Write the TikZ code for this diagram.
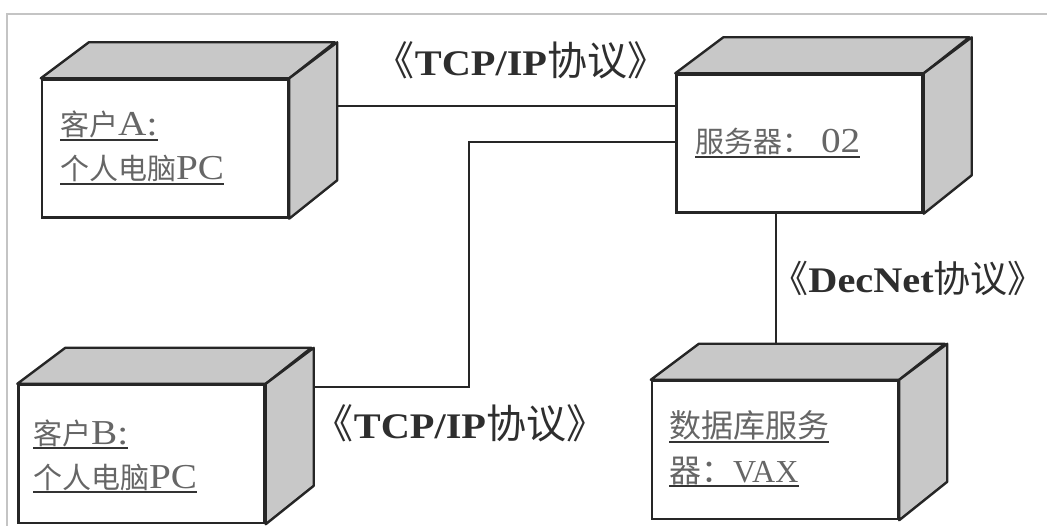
\documentclass[tikz,border=0pt]{standalone}
\usepackage{fontspec}
\setmainfont{Liberation Serif}
\newfontfamily\cjkf{Noto Sans CJK SC}
\newfontfamily\latf[FakeStretch=1.12]{Liberation Serif}
\usetikzlibrary{calc}
\definecolor{linec}{HTML}{262626}
\definecolor{facec}{HTML}{C8C8C8}
\definecolor{txtc}{HTML}{666666}
\definecolor{ulc}{HTML}{333333}
\definecolor{framec}{HTML}{C4C4C4}
\definecolor{labc}{HTML}{2E2E2E}
\newcommand\zh[1]{{\cjkf\fontsize{29}{29}\selectfont #1}}
\newcommand\zhd[1]{{\cjkf\fontsize{32}{32}\selectfont #1}}
\newcommand\zhl[1]{{\cjkf\fontsize{40}{40}\selectfont #1}}
\newcommand\zhm[1]{{\cjkf\fontsize{37}{37}\selectfont #1}}
\newcommand\la[1]{{\latf\fontsize{35}{35}\selectfont #1}}
\newcommand\lv[1]{{\fontsize{32}{32}\selectfont #1}}
\newcommand\lb[1]{{\latf\fontsize{36}{36}\selectfont\bfseries #1}}
\tikzset{
  front/.style={draw=linec, line width=2.4pt, fill=white, minimum width=246pt, minimum height=138pt, inner sep=0pt},
  face/.style={draw=linec, line width=2.4pt, fill=facec, line join=round},
  conn/.style={draw=linec, line width=2.2pt},
  btext/.style={anchor=base west, inner sep=0pt, text=txtc},
  ul/.style={draw=ulc, line width=2.2pt},
  lab/.style={inner sep=0pt, text=labc},
}
\newcommand\cubefaces[1]{%
  \path[face] (#1.north west) -- ++(48,-36) -- ++(246,0) -- (#1.north east) -- cycle;
  \path[face] (#1.north east) -- ++(48,-36) -- ++(0,138) -- (#1.south east) -- cycle;
}
\newcommand\ulline[1]{\draw[ul] ($(#1.base west)+(0,4)$) -- ($(#1.base east)+(0,4)$);}
\begin{document}
\begin{tikzpicture}[x=1pt,y=-1pt]
\useasboundingbox (0,0) rectangle (1047,526);
\draw[framec, line width=1.5pt] (7,526) -- (7,14) -- (1047,14);
% nodes
\node[front] (A) at (165,148.5) {};
\node[front] (S) at (799.5,143.5) {};
\node[front] (B) at (141.5,454) {};
\node[front] (D) at (775,450) {};
\cubefaces{A}
\cubefaces{S}
\cubefaces{B}
\cubefaces{D}
% texts
\node[btext] (a1) at (60,136) {\zh{客户}\la{A:}};
\node[btext] (a2) at (60,180) {\zh{个人电脑}\la{PC}};
\node[btext] (s1) at (695,153) {\zh{服务器：}\la{ 02}};
\node[btext] (b1) at (33,444) {\zh{客户}\la{B:}};
\node[btext] (b2) at (33,488) {\zh{个人电脑}\la{PC}};
\node[btext] (d1) at (669,438) {\zhd{数据库服务}};
\node[btext] (d2) at (669,482) {\zhd{器：}\lv{VAX}};
\ulline{a1}\ulline{a2}\ulline{s1}\ulline{b1}\ulline{b2}\ulline{d1}\ulline{d2}
% connectors
\draw[conn] ($(A.north east)+(48,28)$) -- ($(S.north west)+(0,33)$);
\draw[conn] ($(S.north west)+(0,69)$) -- ++(-206.5,0) |- ($(B.north east)+(48,3)$);
\draw[conn] ($(S.south west)+(100.5,0)$) -- ($(D.north west)+(125,-35)$);
% labels
\node[lab] (l1) at (521,60) {\zhl{《}\lb{TCP/IP}\zhl{协议》}};
\node[lab] (l2) at (460,423) {\zhl{《}\lb{TCP/IP}\zhl{协议》}};
\node[lab, anchor=east] (l3) at (1045,278) {\zhm{《}\lb{DecNet}\zhm{协议》}};
\end{tikzpicture}
\end{document}
